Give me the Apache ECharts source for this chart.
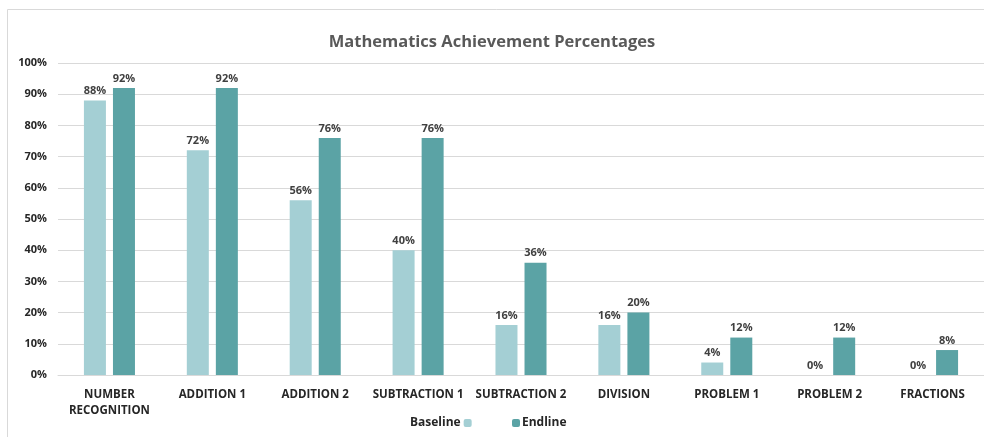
<!DOCTYPE html>
<html><head><meta charset="utf-8">
<script src="https://cdn.jsdelivr.net/npm/echarts@6/dist/echarts.min.js"></script>
<style>html,body{margin:0;padding:0;background:#fff}#c{width:984px;height:437px}</style>
</head><body><div id="c"></div>
<script>
const categories = ['NUMBER\nRECOGNITION','ADDITION 1','ADDITION 2','SUBTRACTION 1','SUBTRACTION 2','DIVISION','PROBLEM 1','PROBLEM 2','FRACTIONS'];
const baseline = [88,72,56,40,16,16,4,0,0];
const endline = [92,92,76,76,36,20,12,12,8];
const yTicks = [0,10,20,30,40,50,60,70,80,90,100];

const chart = echarts.init(document.getElementById('c'));
const font = '"Open Sans", sans-serif';
const lbl = {show:true, position:'top', formatter:'{c}%', color:'#404040', fontWeight:'bold', fontSize:11, fontFamily:font, distance:4};
chart.setOption({
  animation:false,
  graphic:[{type:'rect', shape:{x:7.5,y:9.5,width:1100,height:600}, style:{fill:'none', stroke:'#d9d9d9', lineWidth:1}, silent:true}],
  title:{text:'Mathematics Achievement Percentages', left:'center', top:29, textStyle:{fontFamily:font, fontWeight:'bold', fontSize:16.5, color:'#595959'}},
  legend:[
    {data:['Baseline'], left:405, top:412, align:'right', itemWidth:8, itemHeight:8, itemGap:4, textStyle:{fontFamily:font, fontWeight:'bold', fontSize:12, color:'#262626', padding:[0,-2,0,0]}},
    {data:['Endline'], left:507, top:412, align:'left', itemWidth:8, itemHeight:8, textStyle:{fontFamily:font, fontWeight:'bold', fontSize:12, color:'#262626', padding:[0,0,0,-3]}}
  ],
  grid:{left:58, right:0, top:63, bottom:62},
  xAxis:{type:'category', data:categories, axisTick:{show:false}, axisLine:{lineStyle:{color:'#d9d9d9'}},
    axisLabel:{interval:0, margin:12, color:'#262626', fontWeight:'bold', fontSize:11.5, fontFamily:font, lineHeight:16}},
  yAxis:{type:'value', min:0, max:100, interval:10, axisLine:{show:false}, axisTick:{show:false},
    splitLine:{lineStyle:{color:'#d9d9d9'}},
    axisLabel:{formatter: v => yTicks.includes(v) ? v+'%' : '', color:'#262626', fontWeight:'bold', fontSize:11, fontFamily:font, margin:11}},
  series:[
    {name:'Baseline', type:'bar', data:baseline, barWidth:22, barGap:'32%', itemStyle:{color:'#A4CFD4'}, label:lbl},
    {name:'Endline', type:'bar', data:endline, barWidth:22, itemStyle:{color:'#5BA3A5'}, label:lbl}
  ]
});
</script></body></html>
